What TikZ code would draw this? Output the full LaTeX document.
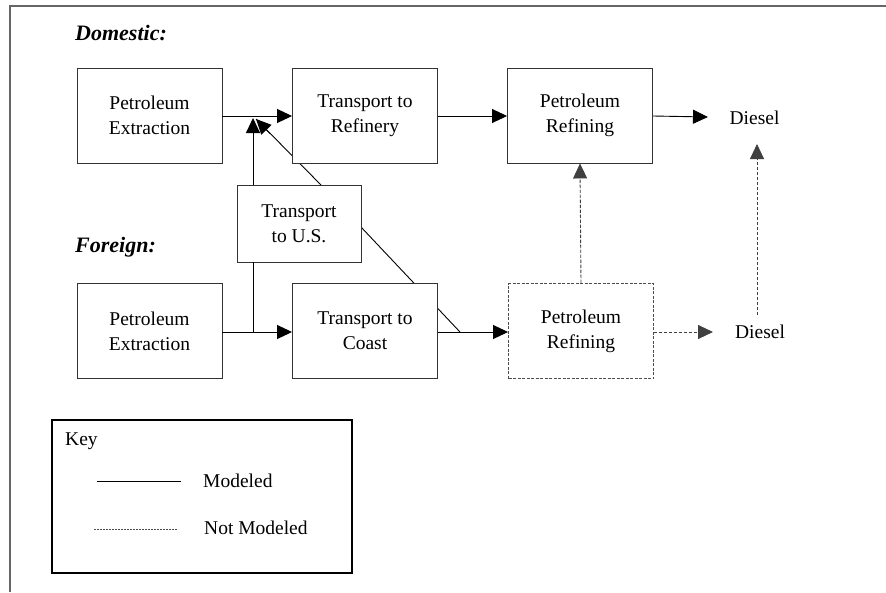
\documentclass[tikz,border=0pt]{standalone}
\usepackage{fontspec}
\setmainfont{Liberation Serif}
\usetikzlibrary{arrows.meta,backgrounds,calc}
\begin{document}
\begin{tikzpicture}[x=1pt,y=-1pt,
  every node/.style={font=\fontsize{19.5}{25}\selectfont},
  procbox/.style={draw=black!80,line width=0.9pt,fill=white,minimum width=145pt,minimum height=95pt,align=center,inner sep=0pt},
  dashbox/.style={procbox,draw=black!70,dash pattern=on 3pt off 1.5pt},
  flow/.style={draw=black,line width=0.9pt,-{Triangle[length=15pt,width=14pt]}},
  dflow/.style={draw=black!75,line width=0.9pt,dash pattern=on 3.5pt off 1.5pt,-{Triangle[length=15pt,width=14pt]}},
  plain/.style={draw=black,line width=0.9pt},
  region/.style={font=\fontsize{22}{26}\selectfont\bfseries\itshape,anchor=west,inner sep=0pt},
  txt/.style={inner sep=0pt}
]
\useasboundingbox (0,0) rectangle (886,592);
% outer frame (partial)
\draw[black!60,line width=1.5pt] (886,6) -- (10,6) -- (10,592);

\node[region] (dom) at (75,33) {Domestic:};
\node[region] (for) at (75,247) {Foreign:};

% domestic row
\node[procbox] (PE1) at (149.5,115.5) {Petroleum\\Extraction};
\node[procbox] (TR1) at (365,115.5) {Transport to\\Refinery};
\node[procbox] (PR1) at (580,115.5) {Petroleum\\Refining};
\node[txt] (D1) at (754.5,118) {Diesel};

% transport to US
\node[procbox,minimum width=124pt,minimum height=77pt] (TUS) at (299,223.5) {Transport\\to U.S.};

% foreign row
\node[procbox] (PE2) at (149.5,331) {Petroleum\\Extraction};
\node[procbox] (TC) at (365,331) {Transport to\\Coast};
\node[dashbox] (PR2) at (581,331) {Petroleum\\Refining};
\node[txt] (D2) at (760,332) {Diesel};

% coordinates
\coordinate (m1) at (253,332);
\coordinate (tusb) at (253,262);
\coordinate (tust) at (253,185);
\coordinate (tip1) at (253,118);
\coordinate (dgs) at (321,185);
\coordinate (tip2) at (256,119);
\coordinate (dgm) at (270,133.5);
\coordinate (dgs2) at (361,227);
\coordinate (jn) at (460,332);
\coordinate (d1in) at (708,117);
\coordinate (d2in) at (713,332);
\coordinate (dvs) at (757,315);
\coordinate (dve) at (757,144);

\begin{scope}[on background layer]
  \draw[plain] (dgs) -- (tip2);
  \draw[plain] (dgs2) -- (jn);
\end{scope}
\draw[flow] (dgm) -- (tip2);

% domestic arrows
\draw[flow] (PE1.east |- 0,116) -- (TR1.west |- 0,116);
\draw[flow] (TR1.east |- 0,116) -- (PR1.west |- 0,116);
\draw[flow] (PR1.east |- 0,116) -- (d1in);

% foreign arrows
\draw[flow] (PE2.east |- 0,332) -- (TC.west |- 0,332);
\draw[flow] (TC.east |- 0,332) -- (PR2.west |- 0,332);
\draw[plain] (m1) -- (tusb);
\draw[flow] (tust) -- (tip1);

% not modeled
\draw[dflow] (PR2.north) -- (PR1.south);
\draw[dflow] (PR2.east |- 0,332) -- (d2in);
\draw[dflow] (dvs) -- (dve);

% key
\node[draw=black,line width=2.5pt,minimum width=300pt,minimum height=153pt,inner sep=0pt] (key) at (202,496.5) {};
\node[txt,anchor=base west] (keyt) at (65,445) {Key};
\coordinate (k1a) at (97,481);
\coordinate (k1b) at (181,481);
\coordinate (k2a) at (94,529);
\coordinate (k2b) at (178,529);
\draw[plain] (k1a) -- (k1b);
\draw[black!70,line width=0.8pt,dash pattern=on 2pt off 1pt] (k2a) -- (k2b);
\node[txt,anchor=west] (km) at (203,481) {Modeled};
\node[txt,anchor=west] (knm) at (204,528) {Not Modeled};
\end{tikzpicture}
\end{document}
